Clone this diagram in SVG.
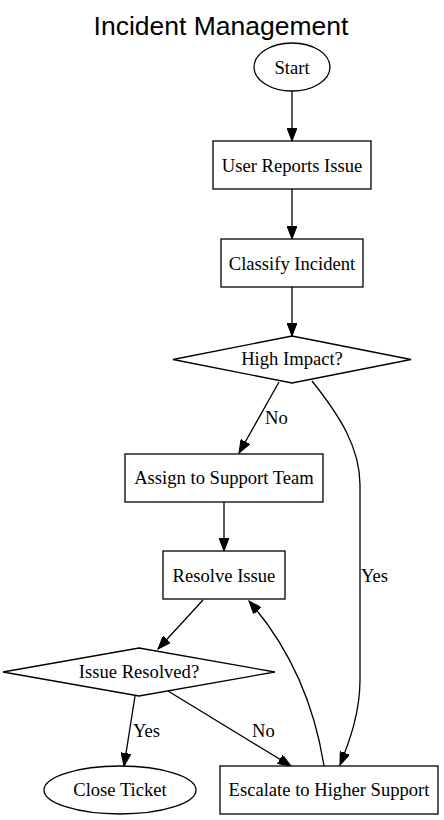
<svg xmlns="http://www.w3.org/2000/svg" width="444" height="820" viewBox="0 0 444 820">
<style>
.n{fill:#fff;stroke:#000;stroke-width:1.3}
.t{font-family:"Liberation Serif","Times New Roman",serif;font-size:18.6px;text-anchor:middle;fill:#000}
.l{font-family:"Liberation Serif","Times New Roman",serif;font-size:18.6px;fill:#000}
.e{fill:none;stroke:#000;stroke-width:1.3}
.title{font-family:"Liberation Sans",Arial,sans-serif;font-size:26.5px;text-anchor:middle;fill:#000}
</style>
<defs>
<marker id="a" markerUnits="userSpaceOnUse" markerWidth="14" markerHeight="10" refX="13" refY="5" orient="auto" viewBox="0 0 14 10">
<path d="M0,0 L13,5 L0,10 z" fill="#000" stroke="#000" stroke-width="1"/>
</marker>
</defs>
<rect width="444" height="820" fill="#fff"/>
<text class="title" x="221" y="35">Incident Management</text>
<g id="edges">
<path class="e" d="M292,91 L292,141" marker-end="url(#a)"/>
<path class="e" d="M292,189 L292,239" marker-end="url(#a)"/>
<path class="e" d="M292,287 L292,336" marker-end="url(#a)"/>
<path class="e" d="M279,382 L239,453" marker-end="url(#a)"/>
<text class="l" x="265" y="424">No</text>
<path class="e" d="M312,381 C340,416 360,448 360,485 L360,680 C360,712 350,740 340,765" marker-end="url(#a)"/>
<text class="l" x="361" y="582">Yes</text>
<path class="e" d="M224,502 L224,551" marker-end="url(#a)"/>
<path class="e" d="M203,600 L158,649" marker-end="url(#a)"/>
<path class="e" d="M135,696 L124,766" marker-end="url(#a)"/>
<text class="l" x="133" y="737">Yes</text>
<path class="e" d="M168,691 L291,766" marker-end="url(#a)"/>
<text class="l" x="252" y="737">No</text>
<path class="e" d="M324,766 C316,715 296,655 249,601" marker-end="url(#a)"/>
</g>
<g id="start"><ellipse class="n" cx="292" cy="67" rx="38" ry="24"/><text class="t" x="292" y="74">Start</text></g>
<g id="report"><rect class="n" x="213" y="141" width="158" height="48"/><text class="t" x="292" y="172">User Reports Issue</text></g>
<g id="classify"><rect class="n" x="221" y="239" width="142" height="48"/><text class="t" x="292" y="270">Classify Incident</text></g>
<g id="impact"><polygon class="n" points="292,336 411,359.5 292,383 173,359.5"/><text class="t" x="292" y="365">High Impact?</text></g>
<g id="assign"><rect class="n" x="125" y="454" width="198" height="48"/><text class="t" x="224" y="484">Assign to Support Team</text></g>
<g id="resolve"><rect class="n" x="163" y="551" width="122" height="48"/><text class="t" x="224" y="582">Resolve Issue</text></g>
<g id="resolved"><polygon class="n" points="139,648 275,672 139,696 3,672"/><text class="t" x="139" y="678">Issue Resolved?</text></g>
<g id="close"><ellipse class="n" cx="120" cy="790" rx="76" ry="24"/><text class="t" x="120" y="796">Close Ticket</text></g>
<g id="escalate"><rect class="n" x="220" y="766" width="218" height="48"/><text class="t" x="329" y="796">Escalate to Higher Support</text></g>
</svg>
